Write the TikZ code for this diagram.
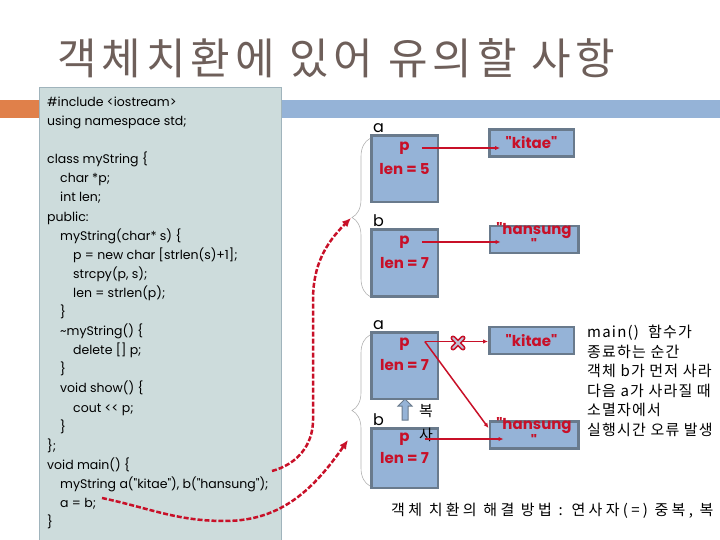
\documentclass[tikz,border=0pt]{standalone}
\usepackage{fontspec}
\setmainfont{Poppins}[Ligatures=TeXOff]
\newfontfamily\krfont{Noto Sans CJK KR}[Ligatures=TeXOff]
\usetikzlibrary{positioning,arrows.meta,shapes.arrows,decorations.pathreplacing}

\definecolor{titlegray}{RGB}{110,95,90}
\definecolor{codefill}{RGB}{205,220,220}
\definecolor{codeline}{RGB}{160,180,188}
\definecolor{barblue}{RGB}{149,179,215}
\definecolor{barorange}{RGB}{224,128,74}
\definecolor{boxfill}{RGB}{149,179,215}
\definecolor{boxline}{RGB}{105,122,140}
\definecolor{ptrred}{RGB}{200,16,40}
\definecolor{xfill}{RGB}{190,195,215}

\newcommand{\codeind}{\hspace*{13pt}}

\begin{document}
\begin{tikzpicture}[x=1pt,y=-1pt,
        objbox/.style={draw=boxline, line width=2.5pt, fill=boxfill, minimum width=66.5pt, minimum height=66.5pt, inner sep=0pt},
        strbox/.style={draw=boxline, line width=2.5pt, fill=boxfill, minimum width=84.5pt, minimum height=27pt, inner sep=0pt},
        val/.style={text=ptrred, font=\bfseries\fontsize{15}{17}\selectfont, inner sep=0pt},
        lbl/.style={font=\fontsize{16}{18}\selectfont, inner sep=0pt},
        note/.style={font=\krfont\fontsize{15}{19.5}\selectfont\addfontfeature{LetterSpace=8}, align=left, inner sep=0pt},
        codetxt/.style={font=\fontsize{12.5}{19.1}\selectfont, align=left, inner sep=0pt},
        ptr/.style={-{Latex[length=5pt,width=4.5pt]}, draw=ptrred, line width=1.5pt},
        jump/.style={-{Latex[length=9pt,width=8pt]}, draw=ptrred, line width=2.5pt, dash pattern=on 5pt off 2pt},
        grp/.style={draw=black!30, line width=0.6pt, decorate, decoration={brace, amplitude=18pt}},
        copyarrow/.style={single arrow, draw=boxline, fill=boxfill, line width=1pt, inner sep=2.5pt, minimum height=21pt, single arrow head extend=4pt, rotate=90}
    ]
    \clip (0,0) rectangle (720,540);

    % title and bars
    \node[anchor=west, font=\krfont\fontsize{43}{50}\selectfont\addfontfeature{LetterSpace=11.5}, text=titlegray, inner sep=0pt] (title) at (57,58) {객체치환에 있어 유의할 사항};
    \fill[barblue] (281,100) rectangle (720,118);
    \fill[barorange] (0,100) rectangle (40,118);

    % source code
    \filldraw[fill=codefill, draw=codeline, line width=0.8pt] (39,87) rectangle (281,548);
    \node[codetxt, anchor=west] (code) at (47,313) {%
        \#include <iostream>\\
        using namespace std;\\
        \mbox{}\\
        class myString \{\\
        \codeind char *p;\\
        \codeind int len;\\
        public:\\
        \codeind myString(char* s) \{\\
        \codeind\codeind p = new char [strlen(s)+1];\\
        \codeind\codeind strcpy(p, s);\\
        \codeind\codeind len = strlen(p);\\
        \codeind \}\\
        \codeind \textasciitilde myString() \{\\
        \codeind\codeind delete [] p;\\
        \codeind \}\\
        \codeind void show() \{\\
        \codeind\codeind cout <{}< p;\\
        \codeind \}\\
        \};\\
        void main() \{\\
        \codeind myString a("kitae"), b("hansung");\\
        \codeind a = b;\\
        \}};

    % before a = b
    \node[objbox] (a1) at (404.5,169) {};
    \node[lbl, anchor=base west] (a1lbl) at ([xshift=3pt,yshift=2pt]a1.north west) {a};
    \node[val] (a1p) at ([yshift=21pt]a1.center) {p};
    \node[val] (a1len) at (a1.center) {len = 5};
    \node[strbox] (k1) at (531.5,143) {};
    \node[val] (k1t) at (k1) {"kitae"};

    \node[objbox] (b1) at (404.5,263) {};
    \node[lbl, anchor=base west] (b1lbl) at ([xshift=3pt,yshift=2pt]b1.north west) {b};
    \node[val] (b1p) at ([yshift=21pt]b1.center) {p};
    \node[val] (b1len) at (b1.center) {len = 7};
    \node[strbox, minimum width=88.5pt] (h1) at (534,239.5) {};
    \node[val, align=center] (h1t) at ([yshift=3pt]h1.center) {"hansung\\"};

    \draw[ptr] ([xshift=12pt]a1p.east) -- ([xshift=12pt]a1p.east -| k1.west);
    \draw[ptr] ([xshift=12pt]b1p.east) -- ([xshift=12pt]b1p.east -| h1.west);
    \draw[grp] ([yshift=1pt]b1.south west) -- ([yshift=-4pt]a1.north west);

    % after a = b
    \node[objbox] (a2) at (404.5,365.5) {};
    \node[lbl, anchor=base west] (a2lbl) at ([xshift=3pt,yshift=2pt]a2.north west) {a};
    \node[val] (a2p) at ([yshift=21pt]a2.center) {p};
    \node[val] (a2len) at (a2.center) {len = 7};
    \node[strbox] (k2) at (531.5,340.5) {};
    \node[val] (k2t) at (k2) {"kitae"};

    \node[objbox, minimum height=59.5pt] (b2) at (404.5,458) {};
    \node[lbl, anchor=base west] (b2lbl) at ([xshift=3pt,yshift=2pt]b2.north west) {b};
    \node[val] (b2p) at ([yshift=19pt]b2.center) {p};
    \node[val] (b2len) at (b2.center) {len = 7};
    \node[strbox, minimum width=88.5pt] (h2) at (534,435) {};
    \node[val, align=center] (h2t) at ([yshift=3pt]h2.center) {"hansung\\"};

    \node[copyarrow] (cpy) at (405,411) {};
    \node[font=\krfont\fontsize{15}{24}\selectfont, align=center, inner sep=0pt] (cpytxt) at (426,423) {복\\사};

    \coordinate (a2s) at ([xshift=15pt,yshift=3pt]a2p.east);
    \coordinate (xm) at (458,343);
    \draw[ptr] (a2s) -- (a2s -| k2.west);
    \draw[ptr] (a2s) -- ([yshift=7pt]h2.west);
    \draw[ptr] ([xshift=15pt]b2p.east) -- ([xshift=15pt]b2p.east -| h2.west);
    \draw[ptrred, line width=5pt, line cap=round] ([shift={(-5,-5)}]xm) -- ([shift={(5,5)}]xm) ([shift={(-5,5)}]xm) -- ([shift={(5,-5)}]xm);
    \draw[xfill, line width=2pt, line cap=round] ([shift={(-5,-5)}]xm) -- ([shift={(5,5)}]xm) ([shift={(-5,5)}]xm) -- ([shift={(5,-5)}]xm);
    \draw[grp] ([yshift=3pt]b2.south west) -- ([yshift=-4pt]a2.north west);

    % from the code to the objects
    \coordinate (s1) at (272,471);
    \coordinate (tip1) at (351,218);
    \coordinate (s2) at (102,498);
    \coordinate (tip2) at (348,440);
    \draw[jump] (s1) to[out=15,in=-90] (313,420) -- (313,300) to[out=90,in=-135] (tip1);
    \draw[jump] (s2) to[out=-12,in=180] (225,521) to[out=0,in=-125] (tip2);

    % notes
    \node[note, anchor=west] (why) at (587,381) {main()\ \ 함수가\\종료하는 순간\\객체 b가 먼저 사라\\다음 a가 사라질 때\\소멸자에서\\실행시간 오류 발생};
    \node[note, anchor=west, font=\krfont\fontsize{15}{19.5}\selectfont\addfontfeature{LetterSpace=22}] (fix) at (391,511) {객체 치환의 해결 방법 : 연사자(=) 중복, 복};
\end{tikzpicture}
\end{document}
